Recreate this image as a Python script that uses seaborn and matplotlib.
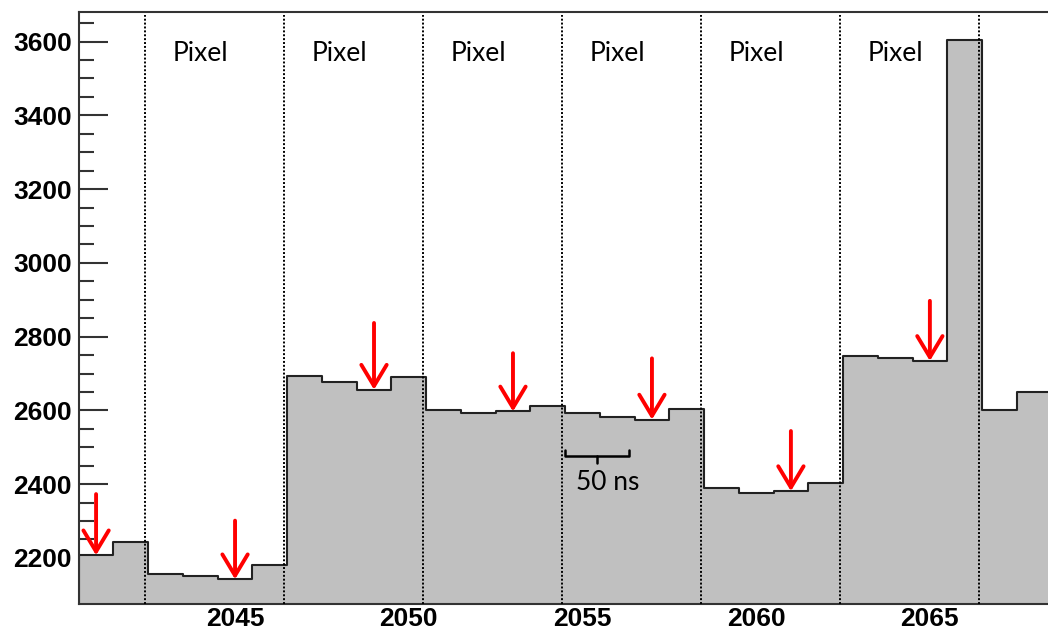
import seaborn as sns
import matplotlib.pyplot as plt
import pandas as pd
from matplotlib.ticker import MultipleLocator

# bin centres and counts
channels = [2041, 2042, 2043, 2044, 2045, 2046, 2047, 2048, 2049, 2050,
            2051, 2052, 2053, 2054, 2055, 2056, 2057, 2058, 2059, 2060,
            2061, 2062, 2063, 2064, 2065, 2066, 2067, 2068]
counts = [2207, 2244, 2156, 2152, 2142, 2181, 2693, 2677, 2656, 2690,
          2601, 2593, 2597, 2613, 2592, 2583, 2575, 2604, 2390, 2376,
          2381, 2402, 2748, 2742, 2734, 3603, 2601, 2649]

# red arrows: channel, tail value (tips sit on the bin tops)
arrow_ch = [2041, 2045, 2049, 2053, 2057, 2061, 2065]
arrow_top = [2373, 2301, 2837, 2755, 2741, 2544, 2897]

# pixel boundaries and labels
pixel_edges = [2042.5, 2046.5, 2050.5, 2054.5, 2058.5, 2062.5, 2066.5]
pixel_label_x = [2044, 2048, 2052, 2056, 2060, 2064]

df = pd.DataFrame({'ch': channels, 'n': counts})

sns.set_style('ticks')
plt.rcParams['font.family'] = ['Liberation Sans', 'DejaVu Sans']
plt.rcParams['text.color'] = 'black'

fig = plt.figure(figsize=(10.48, 6.33), dpi=100)
ax = fig.add_axes([0.0751, 0.0458, 0.9249, 0.9351])

sns.histplot(data=df, x='ch', weights='n', binwidth=1, binrange=(2040.5, 2068.5),
             element='step', fill=True, color='#c0c0c0', edgecolor='#222222',
             linewidth=1.5, alpha=1, ax=ax)

for e in pixel_edges:
    ax.axvline(e - 0.08, ymax=0.995, color='black', lw=1.4, linestyle=(0, (1, 1)), zorder=3)

for x in pixel_label_x:
    ax.text(x, 3567, 'Pixel', ha='center', va='center', fontsize=19, color='black',
            family=['Lato', 'DejaVu Sans'], zorder=4)

tips = dict(zip(channels, counts))
for x, top in zip(arrow_ch, arrow_top):
    ax.annotate('', xy=(x, tips[x]), xytext=(x, top),
                arrowprops=dict(arrowstyle='->, head_length=0.4, head_width=0.24',
                                color='red', lw=2.8, mutation_scale=38,
                                shrinkA=0, shrinkB=0), zorder=5)

# 50 ns bracket
bx0, bx1, by = 2054.5, 2056.35, 2476
ax.plot([bx0, bx0, bx1, bx1], [by + 17, by, by, by + 17], color='black', lw=1.8, zorder=4)
ax.plot([(bx0 + bx1) / 2] * 2, [by, by - 20], color='black', lw=1.8, zorder=4)
ax.text(2055.72, 2405, '50 ns', ha='center', va='center', fontsize=19, color='black',
        family=['Lato', 'DejaVu Sans'], zorder=4)

ax.set_xlim(2040.5, 2068.4)
ax.set_ylim(2075, 3680)
ax.xaxis.set_major_locator(MultipleLocator(5))
ax.xaxis.set_minor_locator(MultipleLocator(1))
ax.yaxis.set_major_locator(MultipleLocator(200))
ax.yaxis.set_minor_locator(MultipleLocator(50))
ax.tick_params(axis='both', which='both', direction='in', color='#333333', width=1.5,
               labelsize=19, labelcolor='black', pad=5)
ax.tick_params(axis='y', which='major', length=21)
ax.tick_params(axis='y', which='minor', length=10.5)
ax.tick_params(axis='x', which='major', length=13)
ax.tick_params(axis='x', which='minor', length=6.5)
ax.tick_params(axis='x', which='major', pad=2)
for lab in ax.get_xticklabels() + ax.get_yticklabels():
    lab.set_fontweight('bold')

ax.set_xlabel('')
ax.set_ylabel('')
for s in ['top', 'left', 'bottom']:
    ax.spines[s].set_color('#333333')
    ax.spines[s].set_linewidth(1.5)
ax.spines['right'].set_visible(False)

fig.savefig('out.png', dpi=100)
